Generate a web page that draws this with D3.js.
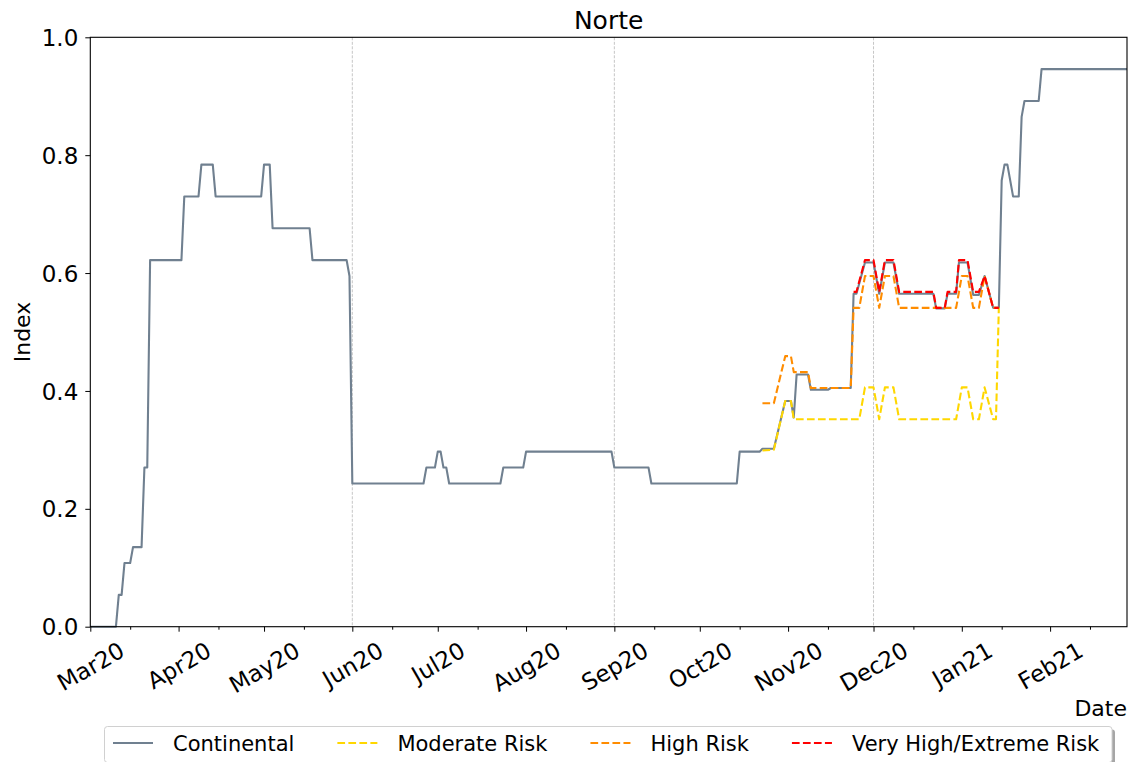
<!DOCTYPE html>
<html>
<head>
<meta charset="utf-8">
<script src="https://cdn.jsdelivr.net/npm/d3@7"></script>
<style>
  body { margin: 0; background: #fff; }
  svg { display: block; }
  text { font-family: "DejaVu Sans", sans-serif; fill: #000; }
</style>
</head>
<body>
<svg id="chart" width="1134" height="762"></svg>
<script>
// Daily index for the Norte region; only the dates where the slope changes are listed,
// consecutive vertices are joined by straight segments.
const continental = [
  ["2020-03-01", 0], ["2020-03-10", 0], ["2020-03-11", 0.054], ["2020-03-12", 0.054],
  ["2020-03-13", 0.108], ["2020-03-15", 0.108], ["2020-03-16", 0.135], ["2020-03-19", 0.135],
  ["2020-03-20", 0.270], ["2020-03-21", 0.270], ["2020-03-22", 0.622], ["2020-04-02", 0.622],
  ["2020-04-03", 0.730], ["2020-04-08", 0.730], ["2020-04-09", 0.784], ["2020-04-13", 0.784],
  ["2020-04-14", 0.730], ["2020-04-30", 0.730], ["2020-05-01", 0.784], ["2020-05-03", 0.784],
  ["2020-05-04", 0.676], ["2020-05-17", 0.676], ["2020-05-18", 0.622], ["2020-05-30", 0.622],
  ["2020-05-31", 0.595], ["2020-06-01", 0.243], ["2020-06-26", 0.243], ["2020-06-27", 0.270],
  ["2020-06-30", 0.270], ["2020-07-01", 0.297], ["2020-07-02", 0.297], ["2020-07-03", 0.270],
  ["2020-07-04", 0.270], ["2020-07-05", 0.243], ["2020-07-23", 0.243], ["2020-07-24", 0.270],
  ["2020-07-31", 0.270], ["2020-08-01", 0.297], ["2020-08-31", 0.297], ["2020-09-01", 0.270],
  ["2020-09-13", 0.270], ["2020-09-14", 0.243], ["2020-10-14", 0.243], ["2020-10-15", 0.297],
  ["2020-10-22", 0.297], ["2020-10-23", 0.302], ["2020-10-27", 0.302], ["2020-10-31", 0.383],
  ["2020-11-02", 0.383], ["2020-11-03", 0.355], ["2020-11-04", 0.428], ["2020-11-08", 0.428],
  ["2020-11-09", 0.402], ["2020-11-15", 0.402], ["2020-11-16", 0.405], ["2020-11-23", 0.405],
  ["2020-11-24", 0.565], ["2020-11-25", 0.565], ["2020-11-28", 0.618], ["2020-12-01", 0.618],
  ["2020-12-03", 0.565], ["2020-12-05", 0.618], ["2020-12-08", 0.618], ["2020-12-10", 0.565],
  ["2020-12-22", 0.565], ["2020-12-23", 0.540], ["2020-12-26", 0.540], ["2020-12-27", 0.565],
  ["2020-12-30", 0.565], ["2020-12-31", 0.618], ["2021-01-03", 0.618], ["2021-01-05", 0.563],
  ["2021-01-07", 0.563], ["2021-01-09", 0.595], ["2021-01-12", 0.541], ["2021-01-14", 0.541],
  ["2021-01-15", 0.757], ["2021-01-16", 0.784], ["2021-01-17", 0.784], ["2021-01-19", 0.730],
  ["2021-01-21", 0.730], ["2021-01-22", 0.865], ["2021-01-23", 0.892], ["2021-01-28", 0.892],
  ["2021-01-29", 0.946], ["2021-02-28", 0.946]
];

const moderateRisk = [
  ["2020-10-23", 0.299], ["2020-10-27", 0.300], ["2020-10-31", 0.383], ["2020-11-02", 0.383],
  ["2020-11-03", 0.352], ["2020-11-26", 0.352], ["2020-11-28", 0.406], ["2020-12-01", 0.406],
  ["2020-12-03", 0.352], ["2020-12-05", 0.406], ["2020-12-08", 0.406], ["2020-12-10", 0.352],
  ["2020-12-30", 0.352], ["2021-01-01", 0.406], ["2021-01-03", 0.406], ["2021-01-05", 0.352],
  ["2021-01-07", 0.352], ["2021-01-09", 0.406], ["2021-01-12", 0.352], ["2021-01-13", 0.352],
  ["2021-01-14", 0.541]
];

const highRisk = [
  ["2020-10-23", 0.379], ["2020-10-27", 0.379], ["2020-10-31", 0.459], ["2020-11-02", 0.459],
  ["2020-11-03", 0.432], ["2020-11-08", 0.432], ["2020-11-09", 0.405], ["2020-11-23", 0.405],
  ["2020-11-24", 0.541], ["2020-11-26", 0.541], ["2020-11-28", 0.595], ["2020-12-01", 0.595],
  ["2020-12-03", 0.541], ["2020-12-05", 0.595], ["2020-12-08", 0.595], ["2020-12-10", 0.541],
  ["2020-12-30", 0.541], ["2021-01-01", 0.595], ["2021-01-03", 0.595], ["2021-01-05", 0.541],
  ["2021-01-07", 0.541], ["2021-01-09", 0.595], ["2021-01-12", 0.541], ["2021-01-14", 0.541]
];

const veryHighRisk = [
  ["2020-11-24", 0.568], ["2020-11-25", 0.568], ["2020-11-28", 0.622], ["2020-12-01", 0.622],
  ["2020-12-03", 0.568], ["2020-12-05", 0.622], ["2020-12-08", 0.622], ["2020-12-10", 0.568],
  ["2020-12-22", 0.568], ["2020-12-23", 0.541], ["2020-12-26", 0.541], ["2020-12-27", 0.568],
  ["2020-12-30", 0.568], ["2020-12-31", 0.622], ["2021-01-03", 0.622], ["2021-01-05", 0.568],
  ["2021-01-07", 0.568], ["2021-01-09", 0.595], ["2021-01-12", 0.541], ["2021-01-14", 0.541]
];

const seriesNames = ["Continental", "Moderate Risk", "High Risk", "Very High/Extreme Risk"];
const seriesColors = ["#708090", "#FFD700", "#FF8C00", "#FF0000"];
const yTickValues = [0, 0.2, 0.4, 0.6, 0.8, 1.0];
const dateRange = ["2020-03-01", "2021-02-28"];
const quarterLines = ["2020-06-01", "2020-09-01", "2020-12-01"];
const titleText = "Norte";

const parse = d3.utcParse("%Y-%m-%d");
const svg = d3.select("#chart");

const plot = { left: 90.3, right: 1127, top: 37.3, bottom: 626.7 };

const x = d3.scaleUtc().domain(dateRange.map(parse)).range([plot.left, plot.right]);
const y = d3.scaleLinear().domain([0, 1]).range([plot.bottom, plot.top]);

// quarter guide lines
svg.append("g").selectAll("line").data(quarterLines.map(parse)).join("line")
  .attr("x1", d => x(d)).attr("x2", d => x(d))
  .attr("y1", plot.top).attr("y2", plot.bottom)
  .attr("stroke", "#b8b8b8").attr("stroke-width", 0.8)
  .attr("stroke-dasharray", "3,1.5");

// series
const line = d3.line().x(d => x(parse(d[0]))).y(d => y(d[1]));
const clip = svg.append("clipPath").attr("id", "plotclip").append("rect")
  .attr("x", plot.left).attr("y", plot.top - 2)
  .attr("width", plot.right - plot.left).attr("height", plot.bottom - plot.top + 4);

const allSeries = [continental, moderateRisk, highRisk, veryHighRisk];
const gLines = svg.append("g").attr("clip-path", "url(#plotclip)");
allSeries.forEach((s, i) => {
  gLines.append("path")
    .attr("d", line(s))
    .attr("fill", "none")
    .attr("stroke", seriesColors[i])
    .attr("stroke-width", 2.1)
    .attr("stroke-linejoin", "round")
    .attr("stroke-dasharray", i === 0 ? null : "7.7,3.3");
});

// x axis: month ticks with labels, minor ticks mid-month
const monthTicks = d3.utcMonth.range(parse(dateRange[0]), d3.utcDay.offset(parse(dateRange[1]), 1));
const midTicks = monthTicks.map(d => d3.utcDay.offset(d, 14)).filter(d => d <= parse(dateRange[1]));

const xMinor = svg.append("g").attr("transform", `translate(0,${plot.bottom})`)
  .call(d3.axisBottom(x).tickValues(midTicks).tickSize(3).tickFormat(""));
const xMajor = svg.append("g").attr("transform", `translate(0,${plot.bottom})`)
  .call(d3.axisBottom(x).tickValues(monthTicks).tickSize(5).tickFormat(d3.utcFormat("%b%y")));
[xMinor, xMajor].forEach(g => {
  g.select(".domain").remove();
  g.selectAll(".tick line").attr("stroke", "#000").attr("stroke-width", 1);
});

const tickFont = 23;
xMajor.selectAll(".tick text")
  .attr("font-size", tickFont)
  .attr("text-anchor", "middle")
  .attr("dy", null)
  .attr("dominant-baseline", "central")
  .each(function () {
    const w = this.getComputedTextLength();
    const h = tickFont * 1.17;
    const top = 10;
    const cy = top + (w * 0.5 + h * 0.866) / 2;
    d3.select(this).attr("y", 0).attr("transform", `translate(0,${cy}) rotate(-30)`);
  });

// y axis
const yAxis = svg.append("g").attr("transform", `translate(${plot.left},0)`)
  .call(d3.axisLeft(y).tickValues(yTickValues).tickSize(5).tickPadding(7)
    .tickFormat(d3.format(".1f")));
yAxis.select(".domain").remove();
yAxis.selectAll(".tick line").attr("stroke", "#000").attr("stroke-width", 1);
yAxis.selectAll(".tick text").attr("font-size", tickFont).attr("dy", "0.35em");

// frame
svg.append("rect")
  .attr("x", plot.left).attr("y", plot.top)
  .attr("width", plot.right - plot.left).attr("height", plot.bottom - plot.top)
  .attr("fill", "none").attr("stroke", "#000").attr("stroke-width", 1.1);

// title and axis labels
svg.append("text").attr("x", (plot.left + plot.right) / 2).attr("y", 29)
  .attr("text-anchor", "middle").attr("font-size", 25).text(titleText);
svg.append("text").attr("x", plot.right).attr("y", 716)
  .attr("text-anchor", "end").attr("font-size", 22).text("Date");
svg.append("text")
  .attr("transform", `translate(30,${(plot.top + plot.bottom) / 2}) rotate(-90)`)
  .attr("text-anchor", "middle").attr("font-size", 22).text("Index");

// legend
const legend = svg.append("g");
const legendBox = { x: 104.5, y: 726.5, w: 1007.5, h: 36 };
legend.append("rect")
  .attr("x", legendBox.x + 3).attr("y", legendBox.y + 3)
  .attr("width", legendBox.w).attr("height", legendBox.h)
  .attr("rx", 3).attr("fill", "#000").attr("fill-opacity", 0.35);
legend.append("rect")
  .attr("x", legendBox.x).attr("y", legendBox.y)
  .attr("width", legendBox.w).attr("height", legendBox.h)
  .attr("rx", 3).attr("fill", "#fff").attr("stroke", "#d0d0d0").attr("stroke-width", 1);

const legendY = 743;
let cursor = 113;
seriesNames.forEach((name, i) => {
  legend.append("line")
    .attr("x1", cursor).attr("x2", cursor + 40)
    .attr("y1", legendY).attr("y2", legendY)
    .attr("stroke", seriesColors[i]).attr("stroke-width", 2.1)
    .attr("stroke-dasharray", i === 0 ? null : "7.7,3.3");
  const t = legend.append("text")
    .attr("x", cursor + 60).attr("y", legendY).attr("dy", "0.36em")
    .attr("font-size", 21).text(name);
  cursor += 60 + t.node().getComputedTextLength() + 43;
});
</script>
</body>
</html>
